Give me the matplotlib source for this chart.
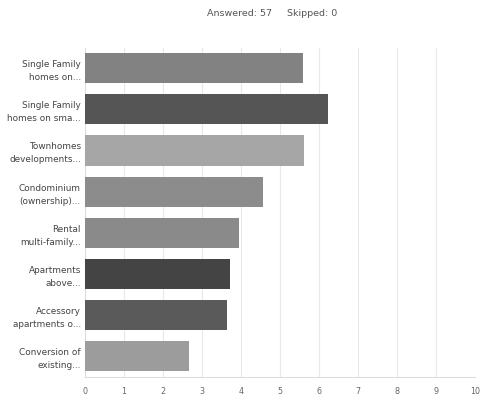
import matplotlib
matplotlib.use("Agg")
import matplotlib.pyplot as plt

categories = ["Single Family\nhomes on...", "Single Family\nhomes on sma...",
              "Townhomes\ndevelopments...", "Condominium\n(ownership)...",
              "Rental\nmulti-family...", "Apartments\nabove...",
              "Accessory\napartments o...", "Conversion of\nexisting..."]
values = [5.58, 6.24, 5.61, 4.57, 3.96, 3.71, 3.65, 2.66]
colors = ["#828282", "#555555", "#a6a6a6", "#8c8c8c", "#8a8a8a", "#444444", "#5a5a5a", "#9c9c9c"]
xticks = list(range(0, 11))

fig = plt.figure(figsize=(4.8, 3.98), dpi=100)
ax = fig.add_axes([85/480, 1-377/398, 390/480, (377-47.5)/398])
y = list(range(len(categories)))
ax.barh(y, values, height=0.73, color=colors, zorder=3)
ax.set_ylim(len(categories)-0.5, -0.5)
ax.set_xlim(0, 10)
ax.set_xticks(xticks)
ax.set_xticklabels([str(t) for t in xticks], fontsize=5.8, color="#666666")
ax.set_yticks(y)
ax.set_yticklabels(categories, fontsize=6.4, color="#444444", linespacing=1.55)
ax.tick_params(axis="both", length=0, pad=7)
ax.tick_params(axis="y", pad=3)
ax.grid(axis="x", color="#e8e8e8", linewidth=0.8, zorder=0)
for s in ["top", "right"]:
    ax.spines[s].set_visible(False)
ax.spines["left"].set_color("#dddddd")
ax.spines["bottom"].set_color("#dddddd")
fig.text(272/480, 1-13/398, "Answered: 57     Skipped: 0", ha="center", va="center",
         fontsize=6.8, color="#555555")
fig.savefig("out.png", dpi=100)
